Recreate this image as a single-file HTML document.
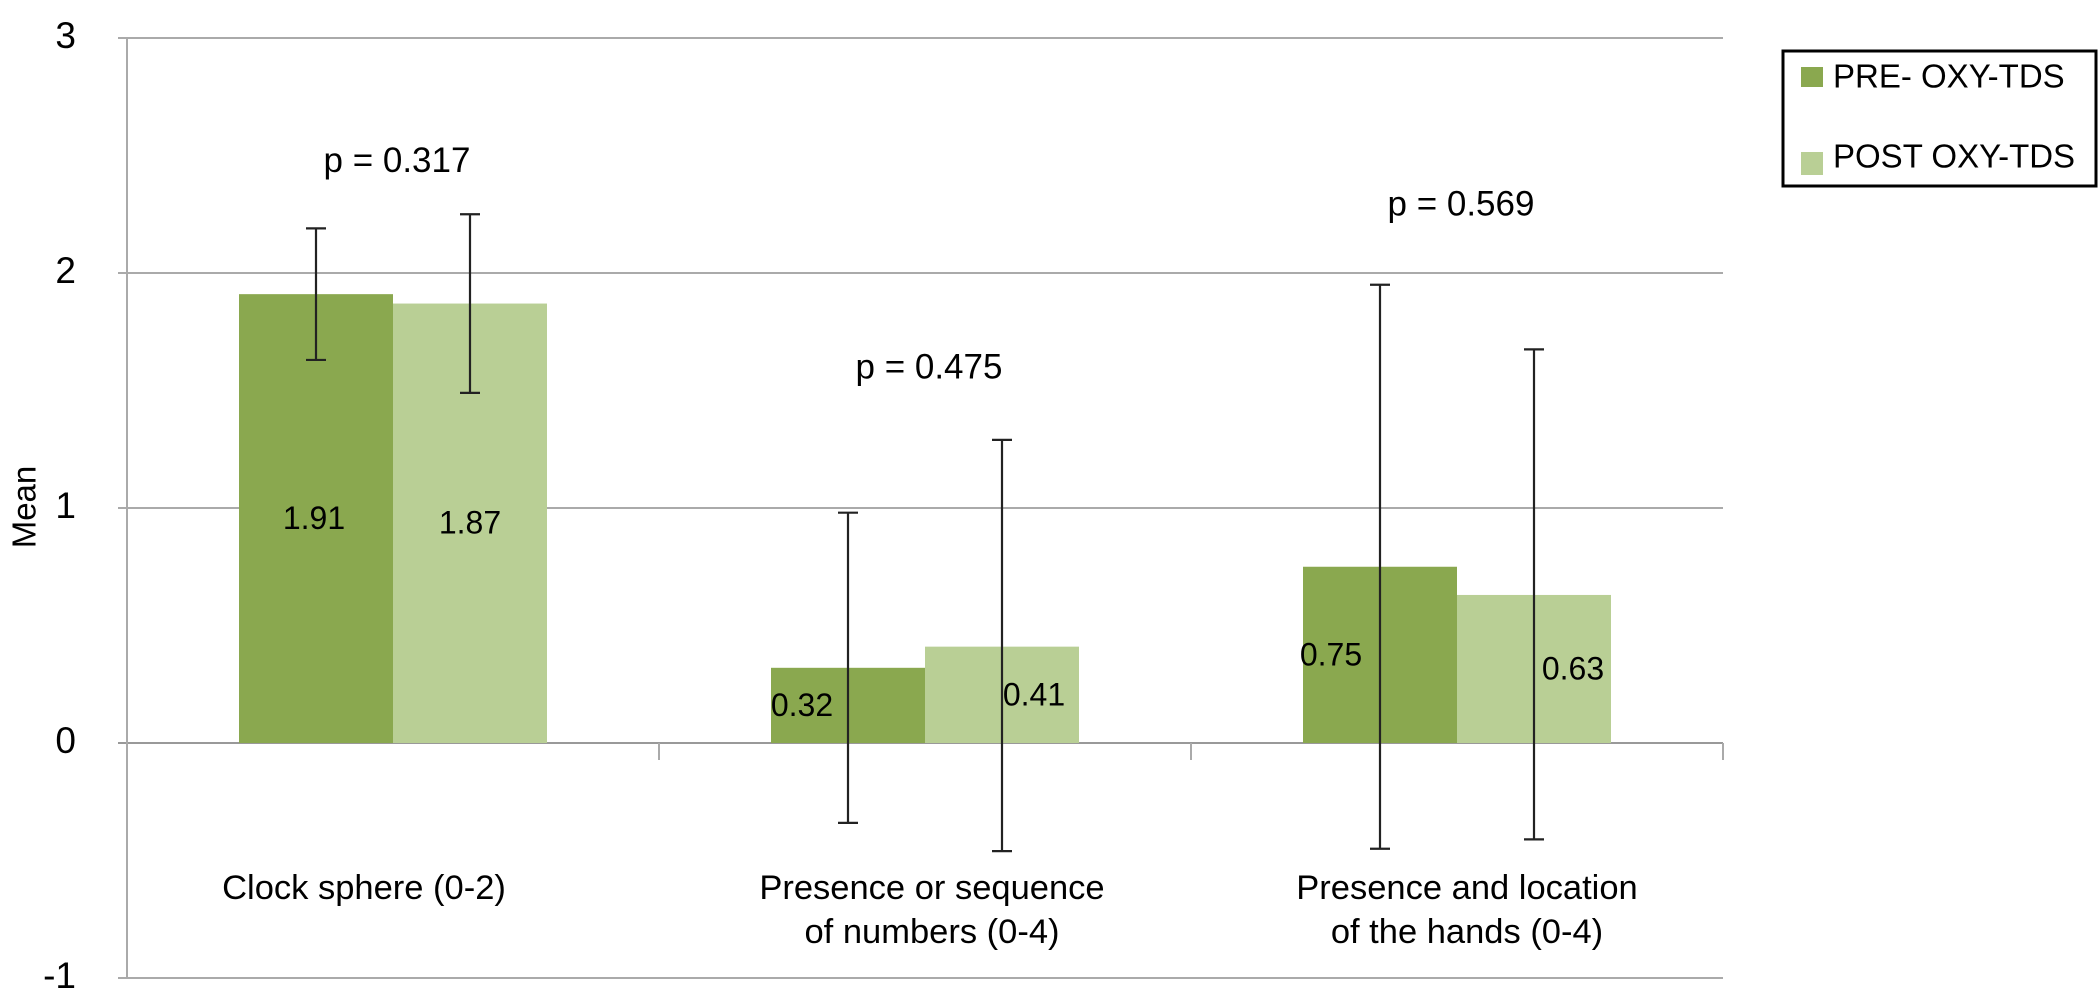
<!DOCTYPE html>
<html><head><meta charset="utf-8"><style>
body{margin:0;background:#fff;}
svg{display:block;font-family:"Liberation Sans",Arial,sans-serif;}
</style></head><body>
<svg id="chart" width="2100" height="999">
<g id="grid"></g>
<g id="bars"></g>
<g id="errs"></g>
<g id="labels"></g>
<text x="27" y="507" font-size="33" text-anchor="middle" transform="rotate(-90 27 507)" dominant-baseline="middle">Mean</text>
<g>
<rect x="1783" y="51" width="313" height="135" fill="#fff" stroke="#000" stroke-width="3"/>
<rect x="1801" y="67" width="22" height="20" fill="#8aa84f"/>
<text x="1833" y="79" font-size="33" dominant-baseline="middle">PRE- OXY-TDS</text>
<rect x="1801" y="152" width="22" height="23" fill="#b9cf95"/>
<text x="1833" y="159" font-size="33" dominant-baseline="middle">POST OXY-TDS</text>
</g>
</svg>
<script>
const categories=[["Clock sphere (0-2)"],["Presence or sequence","of numbers (0-4)"],["Presence and location","of the hands (0-4)"]];
const preValues=[1.91,0.32,0.75];
const postValues=[1.87,0.41,0.63];
const preErrLow=[1.63,-0.34,-0.45];
const preErrHigh=[2.19,0.98,1.95];
const postErrLow=[1.49,-0.46,-0.41];
const postErrHigh=[2.25,1.29,1.675];
const pLabels=["p = 0.317","p = 0.475","p = 0.569"];
const pLevels=[2.47,1.59,2.285];
const yTicks=[-1,0,1,2,3];

// layout (pixel offsets, not data)
const preLabelDx=[-2,-46,-49];
const postLabelDx=[0,32,39];
const catLabelDx=[-29,7,10];

const NS="http://www.w3.org/2000/svg";
const X0=127,X1=1723,Y0=743,U=235;
const cw=(X1-X0)/categories.length,bw=154;
function y(v){return Y0-v*U;}
function cx(i){return X0+cw*(i+0.5);}
function mk(p,tag,attrs){const e=document.createElementNS(NS,tag);for(const k in attrs)e.setAttribute(k,attrs[k]);p.appendChild(e);return e;}
const grid=document.getElementById('grid'),bars=document.getElementById('bars'),errs=document.getElementById('errs'),labels=document.getElementById('labels');
yTicks.forEach(t=>{
  const l=mk(grid,'line',{x1:X0-9,x2:X1,y1:y(t),y2:y(t),stroke:t===0?'#999':'#aaa','stroke-width':2});
  
  
  const tx=mk(grid,'text',{x:76,y:y(t),'font-size':37,'text-anchor':'end','dominant-baseline':'middle'});
  tx.textContent=t;
  
  
});
const ax=mk(grid,'line',{x1:X0,x2:X0,y1:y(3),y2:y(-1),stroke:'#aaa','stroke-width':2});


for(let i=0;i<=categories.length;i++){
  const tk=mk(grid,'line',{x1:X0+cw*i,x2:X0+cw*i,y1:Y0,y2:Y0+17,stroke:'#aaa','stroke-width':2});
  
  
}
categories.forEach((c,i)=>{
  const series=[[preValues,preErrLow,preErrHigh,'#8aa84f',-1,'pre',preLabelDx],[postValues,postErrLow,postErrHigh,'#b9cf95',0,'post',postLabelDx]];
  series.forEach(([vals,lo,hi,col,off,nm,dx])=>{
    const x=cx(i)+off*bw,v=vals[i];
    const r=mk(bars,'rect',{x:x,y:Math.min(y(v),Y0),width:bw,height:Math.abs(y(v)-Y0),fill:col});
    
    
    const t=mk(labels,'text',{x:x+bw/2+dx[i],y:(y(v)+Y0)/2+2,'font-size':32,'text-anchor':'middle','dominant-baseline':'middle'});
    t.textContent=v.toFixed(2);
    
    
    const ex=x+bw/2;
    const g=mk(errs,'g',{stroke:'#222','stroke-width':2.2});
    
    
    mk(g,'line',{x1:ex,x2:ex,y1:y(lo[i]),y2:y(hi[i])});
    mk(g,'line',{x1:ex-10,x2:ex+10,y1:y(lo[i]),y2:y(lo[i])});
    mk(g,'line',{x1:ex-10,x2:ex+10,y1:y(hi[i]),y2:y(hi[i])});
  });
  const p=mk(labels,'text',{x:cx(i)+4,y:y(pLevels[i]),'font-size':35,'text-anchor':'middle','dominant-baseline':'middle'});
  p.textContent=pLabels[i];
  
  
  c.forEach((line,j)=>{
    const yy=890+j*44;
    const t=mk(labels,'text',{x:cx(i)+catLabelDx[i],y:yy,'font-size':34.5,'text-anchor':'middle','dominant-baseline':'middle'});
    t.textContent=line;
    
    
  });
});
</script>
</body></html>
